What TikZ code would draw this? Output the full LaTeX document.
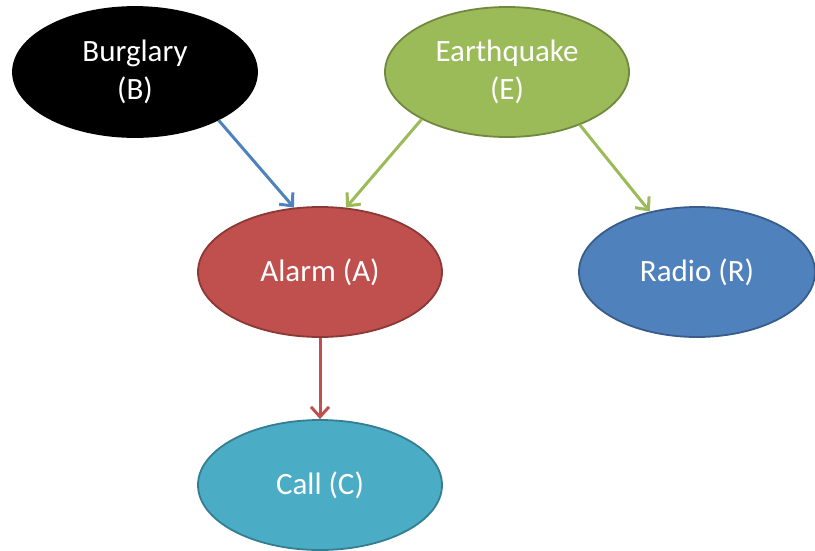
\documentclass[tikz,border=0pt]{standalone}
\usepackage{fontspec}
\setmainfont{Carlito}
\usetikzlibrary{shapes.geometric,arrows.meta}
\definecolor{egreen}{HTML}{9BBB59}
\definecolor{egreenb}{HTML}{71893F}
\definecolor{ared}{HTML}{C0504D}
\definecolor{aredb}{HTML}{8C3836}
\definecolor{rblue}{HTML}{4F81BD}
\definecolor{rblueb}{HTML}{385D8A}
\definecolor{ccyan}{HTML}{4BACC6}
\definecolor{ccyanb}{HTML}{357D91}
\tikzset{
  var/.style={ellipse, line width=1.8pt, minimum width=244pt, minimum height=130pt,
    inner sep=0pt, text=white, align=center,
    font=\fontsize{31pt}{38pt}\selectfont},
  edge/.style={line width=3pt, -{Straight Barb[length=10pt,width=18pt,line width=3pt]}},
}
\begin{document}
\begin{tikzpicture}[x=1pt,y=-1pt]
\useasboundingbox (0,0) rectangle (815,550);
\node[var, fill=black, draw=black] (B) at (135,72) {Burglary\\(B)};
\node[var, fill=egreen, draw=egreenb] (E) at (507,72) {Earthquake\\(E)};
\node[var, fill=ared, draw=aredb] (A) at (320,272) {Alarm (A)};
\node[var, fill=rblue, draw=rblueb, minimum width=236pt] (R) at (697,272) {Radio (R)};
\node[var, fill=ccyan, draw=ccyanb] (C) at (320,485) {Call (C)};
\draw[edge, rblue] (B.-30) -- (A.112);
\draw[edge, egreen] (E.209) -- (A.68);
\draw[edge, egreen] (E.-36) -- (R.128);
\draw[edge, ared] (A.south) -- (C.north);
\end{tikzpicture}
\end{document}
